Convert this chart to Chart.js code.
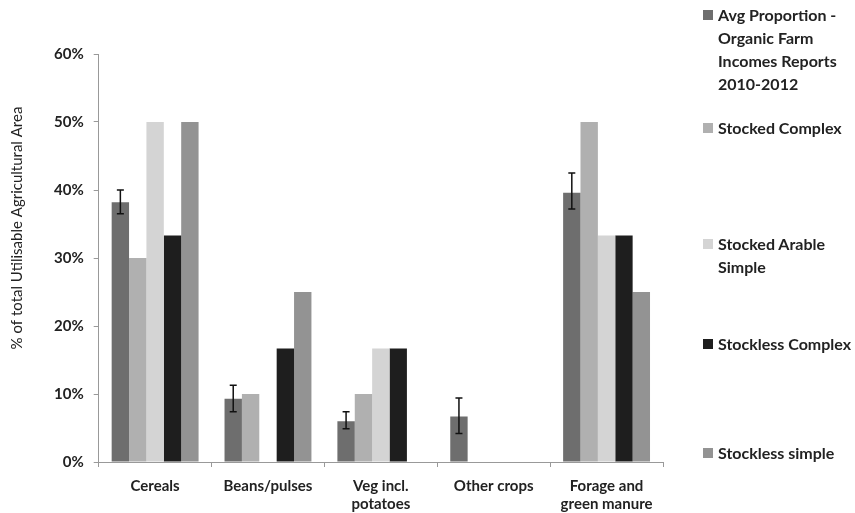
<!DOCTYPE html>
<html>
<head>
<meta charset="utf-8">
<script src="https://cdn.jsdelivr.net/npm/chart.js@4/dist/chart.umd.min.js"></script>
<style>
  html, body { margin: 0; padding: 0; background: #fff; }
  #wrap { position: relative; width: 855px; height: 513px; }
  #legend { position: absolute; left: 703px; top: 0; width: 152px; font-family: Lato, sans-serif; font-weight: bold; font-size: 16px; color: #222; }
  .item { position: absolute; left: 0; line-height: 23px; }
  .box { position: absolute; left: 0; top: 7px; width: 10px; height: 10px; }
  .txt { margin-left: 15px; white-space: nowrap; }
</style>
</head>
<body>
<div id="wrap">
  <canvas id="barchart" width="855" height="513"></canvas>
  <div id="legend"></div>
</div>
<script>
var categories = ['Cereals', 'Beans/pulses', ['Veg incl.', 'potatoes'], 'Other crops', ['Forage and', 'green manure']];
var seriesNames = [
    ['Avg Proportion -', 'Organic Farm', 'Incomes Reports', '2010-2012'],
    ['Stocked Complex'],
    ['Stocked Arable', 'Simple'],
    ['Stockless Complex'],
    ['Stockless simple']
];
var avgProportion = [38.2, 9.3, 6.0, 6.7, 39.6];
var avgErrLow = [36.5, 7.4, 4.9, 4.2, 37.2];
var avgErrHigh = [40.0, 11.3, 7.4, 9.4, 42.5];
var stockedComplex = [30, 10, 10, 0, 50];
var stockedArable = [50, 0, 16.7, 0, 33.3];
var stocklessComplex = [33.3, 16.7, 16.7, 0, 33.3];
var stocklessSimple = [50, 25, 0, 0, 25];
var yTicks = [0, 10, 20, 30, 40, 50, 60];

var colors = ['#6e6e6e', '#b0b0b0', '#d4d4d4', '#1e1e1e', '#939393'];
var legendTops = [3, 116, 232, 332, 441];

// legend on the right, built as html
var legend = document.getElementById('legend');
seriesNames.forEach(function (name, i) {
    var item = document.createElement('div');
    item.className = 'item';
    item.style.top = legendTops[i] + 'px';
    item.innerHTML = '<div class="box" style="background:' + colors[i] + '"></div><div class="txt">' + name.join('<br>') + '</div>';
    legend.appendChild(item);
});

// error bars for the first series + the y axis title
var extras = {
    id: 'extras',
    afterDatasetsDraw: function (chart) {
        var ctx = chart.ctx;
        var y = chart.scales.y;
        var meta = chart.getDatasetMeta(0);
        ctx.save();
        ctx.strokeStyle = '#111';
        ctx.lineWidth = 1.5;
        meta.data.forEach(function (bar, i) {
            var yl = y.getPixelForValue(avgErrLow[i]);
            var yh = y.getPixelForValue(avgErrHigh[i]);
            ctx.beginPath();
            ctx.moveTo(bar.x, yl); ctx.lineTo(bar.x, yh);
            ctx.moveTo(bar.x - 3.5, yl); ctx.lineTo(bar.x + 3.5, yl);
            ctx.moveTo(bar.x - 3.5, yh); ctx.lineTo(bar.x + 3.5, yh);
            ctx.stroke();
        });
        ctx.translate(17, 228);
        ctx.rotate(-Math.PI / 2);
        ctx.fillStyle = '#222';
        ctx.font = '15px Lato';
        ctx.textAlign = 'center';
        ctx.textBaseline = 'middle';
        ctx.fillText('% of total Utilisable Agricultural Area', 0, 0);
        ctx.restore();
    }
};

var chart = new Chart(document.getElementById('barchart'), {
    type: 'bar',
    data: {
        labels: categories,
        datasets: [
            { label: 'Avg Proportion - Organic Farm Incomes Reports 2010-2012', data: avgProportion, backgroundColor: colors[0] },
            { label: 'Stocked Complex', data: stockedComplex, backgroundColor: colors[1] },
            { label: 'Stocked Arable Simple', data: stockedArable, backgroundColor: colors[2] },
            { label: 'Stockless Complex', data: stocklessComplex, backgroundColor: colors[3] },
            { label: 'Stockless simple', data: stocklessSimple, backgroundColor: colors[4] }
        ]
    },
    options: {
        responsive: false,
        animation: false,
        layout: { padding: { left: 44, right: 192, top: 54, bottom: -10 } },
        datasets: { bar: { categoryPercentage: 0.77, barPercentage: 1 } },
        plugins: {
            legend: { display: false },
            tooltip: { enabled: false }
        },
        scales: {
            x: {
                grid: { drawOnChartArea: false, color: '#999', tickLength: 5, offset: true },
                border: { color: '#999' },
                ticks: { color: '#222', font: { family: 'Lato', size: 15, weight: 'bold' }, padding: 10, maxRotation: 0, autoSkip: false }
            },
            y: {
                min: 0,
                max: 60,
                afterBuildTicks: function (axis) {
                    axis.ticks = yTicks.map(function (v) { return { value: v }; });
                },
                grid: { drawOnChartArea: false, color: '#999', tickLength: 5 },
                border: { color: '#999' },
                ticks: {
                    color: '#222',
                    font: { family: 'Lato', size: 15, weight: 'bold' },
                    padding: 10,
                    callback: function (v) { return v + '%'; }
                }
            }
        }
    },
    plugins: [extras]
});
</script>
</body>
</html>
